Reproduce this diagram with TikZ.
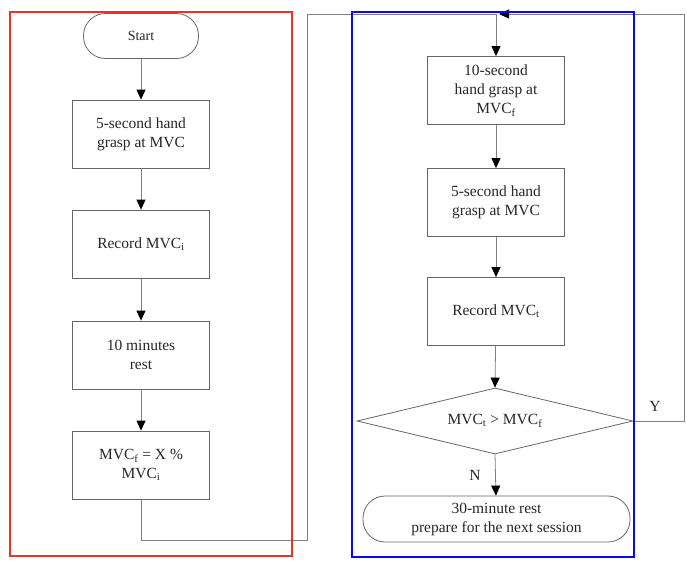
\documentclass[tikz,border=0pt]{standalone}
\usepackage{fontspec}
\setmainfont{Liberation Serif}
\usetikzlibrary{shapes.geometric,arrows.meta}
\begin{document}
\begin{tikzpicture}[x=1pt,y=-1pt,
  every node/.style={font=\fontsize{15.5}{19}\selectfont, text=black!85, align=center},
  procbox/.style={draw=black!60, line width=0.8pt, rectangle, minimum width=137pt, minimum height=68pt, inner sep=0pt},
  termbox/.style={draw=black!60, line width=0.8pt, rectangle, rounded corners=22pt, inner sep=0pt},
  decbox/.style={draw=black!60, line width=0.8pt, diamond, aspect=4.2, minimum width=276pt, minimum height=66pt, inner sep=0pt},
  link/.style={draw=black!50, line width=0.8pt},
  arr/.style={link, -{Triangle[width=9pt,length=10pt,fill=black,color=black]}},
  frame/.style={line width=1.6pt}
]
\useasboundingbox (0,0) rectangle (687,565);
% left column
\node[termbox, minimum width=115pt, minimum height=45pt, font=\fontsize{14}{17}\selectfont] (start) at (141,36) {Start};
\node[procbox] (b1) at (141,134) {5-second hand\\grasp at MVC};
\node[procbox] (b2) at (141,244) {Record MVC\textsubscript{i}};
\node[procbox] (b3) at (141,355) {10 minutes\\rest};
\node[procbox] (b4) at (141,465) {MVC\textsubscript{f} = X \%\\MVC\textsubscript{i}};
% right column
\node[procbox] (b5) at (496,90.5) {10-second\\hand grasp at\\MVC\textsubscript{f}};
\node[procbox] (b6) at (496,202.5) {5-second hand\\grasp at MVC};
\node[procbox] (b7) at (496,311.5) {Record MVC\textsubscript{t}};
\node[decbox] (dia) at (495,421) {MVC\textsubscript{t} > MVC\textsubscript{f}};
\node[termbox, minimum width=267pt, minimum height=46pt] (stop) at (496.5,519) {30-minute rest\\prepare for the next session};
% coordinates
\coordinate (c1) at (307,540);
\coordinate (top) at (496,14);
\coordinate (c3) at (684,14);
% connectors
\draw[arr] (start) -- (b1);
\draw[arr] (b1) -- (b2);
\draw[arr] (b2) -- (b3);
\draw[arr] (b3) -- (b4);
\draw[link] (b4.south) |- (c1) |- (top);
\draw[arr] (dia.east) -| (c3) -- ([xshift=3pt]top);
\draw[arr] (top) -- (b5);
\draw[arr] (b5) -- (b6);
\draw[arr] (b6) -- (b7);
\draw[arr] (b7) -- (dia.north);
\draw[arr] (dia.south) -- (stop);
\node (ylab) at (655,406) {Y};
\node (nlab) at (475,475) {N};
% frames
\draw[frame, draw={rgb,255:red,232;green,52;blue,40}] (10,12) rectangle (292,556);
\draw[frame, draw={rgb,255:red,10;green,10;blue,240}] (352,12) rectangle (634,557);
\end{tikzpicture}
\end{document}
